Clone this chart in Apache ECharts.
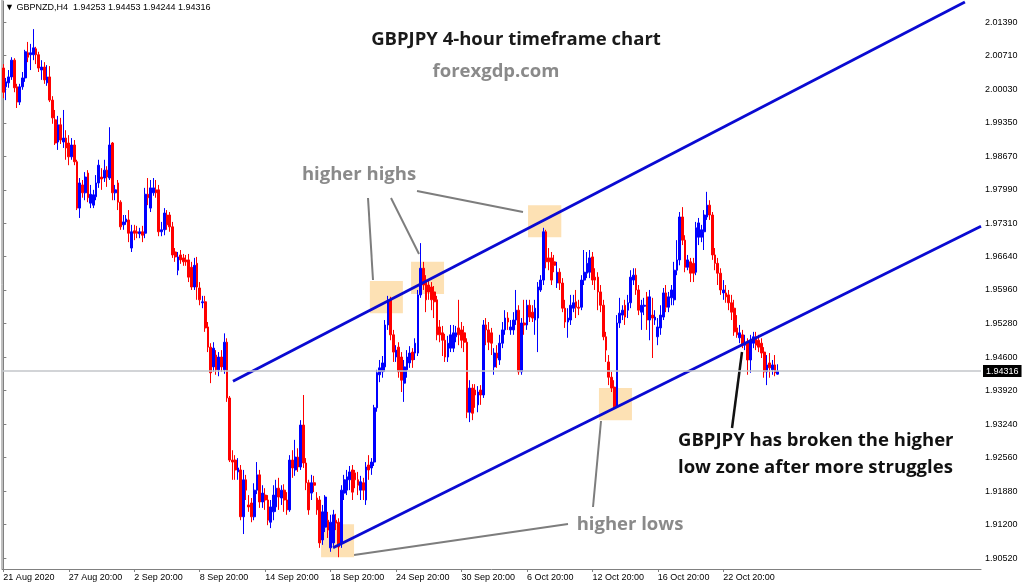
<!DOCTYPE html>
<html>
<head>
<meta charset="utf-8">
<script src="https://cdn.jsdelivr.net/npm/echarts@6/dist/echarts.min.js"></script>
<style>
html,body{margin:0;padding:0;background:#fff;}
#chart{width:1024px;height:586px;}
</style>
</head>
<body>
<div id="chart"></div>
<script>
// ---- data: GBPNZD H4 candles [open, close, low, high] ----
const ohlc = [
[2.0046,1.9997,1.9985,2.0054],[2.0008,2.0018,1.9981,2.0026],[2.0016,2.0028,2.0006,2.0042],[2.0028,2.0062,2.0022,2.0068],
[2.0062,2.0006,1.9997,2.0066],[2.0008,1.9977,1.9965,2.0014],[1.9977,2.0008,1.9971,2.0014],[2.0008,2.0026,2.0002,2.0038],
[2.0026,2.0079,2.0018,2.0083],[2.0077,2.0068,2.0058,2.0099],[2.0073,2.0077,2.0042,2.0095],[2.0073,2.0087,2.0062,2.0125],
[2.0085,2.0073,2.0054,2.0089],[2.0073,2.0046,2.0038,2.0079],[2.0042,2.0048,2.0022,2.0062],[2.0048,2.0022,2.0014,2.0058],
[2.0016,2.0028,2.0010,2.0052],[2.0028,1.9981,1.9977,2.0050],[1.9981,1.9945,1.9933,1.9989],[1.9941,1.9894,1.9890,1.9961],
[1.9896,1.9931,1.9880,1.9949],[1.9931,1.9900,1.9892,1.9945],[1.9896,1.9904,1.9884,1.9961],[1.9904,1.9884,1.9860,1.9920],
[1.9894,1.9866,1.9849,1.9910],[1.9866,1.9890,1.9860,1.9904],[1.9890,1.9856,1.9849,1.9900],[1.9856,1.9762,1.9758,1.9860],
[1.9762,1.9813,1.9742,1.9823],[1.9809,1.9793,1.9783,1.9819],[1.9793,1.9825,1.9778,1.9835],[1.9833,1.9783,1.9774,1.9839],
[1.9772,1.9790,1.9762,1.9809],[1.9768,1.9789,1.9762,1.9799],[1.9785,1.9813,1.9778,1.9829],[1.9813,1.9849,1.9803,1.9860],
[1.9825,1.9821,1.9799,1.9843],[1.9823,1.9839,1.9815,1.9860],[1.9839,1.9825,1.9805,1.9847],[1.9823,1.9890,1.9819,1.9926],
[1.9894,1.9793,1.9778,1.9896],[1.9793,1.9799,1.9778,1.9809],[1.9813,1.9774,1.9758,1.9819],[1.9774,1.9724,1.9718,1.9778],
[1.9728,1.9734,1.9718,1.9748],[1.9734,1.9740,1.9728,1.9748],[1.9738,1.9711,1.9693,1.9758],[1.9681,1.9714,1.9673,1.9728],
[1.9716,1.9711,1.9697,1.9728],[1.9714,1.9711,1.9701,1.9726],[1.9710,1.9714,1.9701,1.9722],[1.9714,1.9707,1.9693,1.9726],
[1.9711,1.9790,1.9701,1.9803],[1.9790,1.9783,1.9768,1.9823],[1.9762,1.9803,1.9754,1.9819],[1.9793,1.9803,1.9787,1.9823],
[1.9799,1.9793,1.9783,1.9819],[1.9799,1.9714,1.9705,1.9809],[1.9714,1.9718,1.9705,1.9734],[1.9718,1.9752,1.9707,1.9762],
[1.9748,1.9728,1.9718,1.9758],[1.9748,1.9724,1.9714,1.9754],[1.9724,1.9667,1.9661,1.9734],[1.9673,1.9663,1.9653,1.9681],
[1.9636,1.9663,1.9626,1.9673],[1.9667,1.9657,1.9649,1.9677],[1.9661,1.9653,1.9645,1.9669],[1.9657,1.9653,1.9645,1.9667],
[1.9657,1.9622,1.9612,1.9669],[1.9642,1.9602,1.9596,1.9653],[1.9602,1.9646,1.9596,1.9661],[1.9650,1.9602,1.9576,1.9663],
[1.9600,1.9576,1.9565,1.9612],[1.9570,1.9572,1.9559,1.9584],[1.9572,1.9519,1.9511,1.9584],[1.9521,1.9480,1.9470,1.9531],
[1.9480,1.9428,1.9407,1.9488],[1.9440,1.9478,1.9430,1.9490],[1.9464,1.9434,1.9424,1.9474],[1.9434,1.9460,1.9421,1.9470],
[1.9460,1.9440,1.9430,1.9474],[1.9434,1.9490,1.9426,1.9508],[1.9490,1.9377,1.9369,1.9498],[1.9377,1.9251,1.9247,1.9381],
[1.9251,1.9247,1.9211,1.9271],[1.9251,1.9231,1.9211,1.9261],[1.9227,1.9235,1.9211,1.9255],[1.9231,1.9136,1.9129,1.9241],
[1.9136,1.9211,1.9101,1.9231],[1.9211,1.9190,1.9170,1.9221],[1.9160,1.9156,1.9146,1.9180],[1.9164,1.9136,1.9125,1.9174],
[1.9136,1.9190,1.9129,1.9204],[1.9190,1.9221,1.9182,1.9247],[1.9221,1.9166,1.9154,1.9231],[1.9166,1.9184,1.9154,1.9200],
[1.9180,1.9170,1.9150,1.9194],[1.9170,1.9129,1.9119,1.9180],[1.9125,1.9156,1.9113,1.9170],[1.9146,1.9180,1.9129,1.9200],
[1.9156,1.9194,1.9146,1.9211],[1.9194,1.9176,1.9150,1.9215],[1.9174,1.9190,1.9160,1.9200],[1.9190,1.9170,1.9146,1.9202],
[1.9170,1.9150,1.9140,1.9186],[1.9150,1.9251,1.9146,1.9261],[1.9251,1.9235,1.9215,1.9271],[1.9231,1.9257,1.9219,1.9292],
[1.9257,1.9237,1.9227,1.9275],[1.9237,1.9322,1.9231,1.9332],[1.9322,1.9245,1.9235,1.9383],[1.9245,1.9205,1.9190,1.9255],
[1.9205,1.9150,1.9140,1.9211],[1.9184,1.9205,1.9170,1.9221],[1.9205,1.9200,1.9186,1.9219],[1.9174,1.9150,1.9140,1.9186],
[1.9170,1.9083,1.9073,1.9178],[1.9089,1.9146,1.9079,1.9160],[1.9115,1.9176,1.9105,1.9180],[1.9129,1.9109,1.9093,1.9146],
[1.9073,1.9125,1.9065,1.9140],[1.9083,1.9140,1.9077,1.9150],[1.9129,1.9123,1.9109,1.9142],[1.9125,1.9075,1.9054,1.9133],
[1.9083,1.9190,1.9073,1.9200],[1.9184,1.9211,1.9170,1.9221],[1.9190,1.9217,1.9180,1.9231],[1.9211,1.9227,1.9190,1.9239],
[1.9231,1.9186,1.9170,1.9241],[1.9225,1.9211,1.9194,1.9231],[1.9211,1.9200,1.9180,1.9227],[1.9190,1.9207,1.9170,1.9219],
[1.9205,1.9190,1.9170,1.9215],[1.9170,1.9237,1.9160,1.9247],[1.9241,1.9231,1.9211,1.9261],[1.9235,1.9247,1.9221,1.9255],
[1.9247,1.9357,1.9239,1.9363],[1.9357,1.9428,1.9349,1.9434],[1.9424,1.9438,1.9409,1.9454],[1.9430,1.9448,1.9418,1.9462],
[1.9440,1.9525,1.9430,1.9535],[1.9525,1.9576,1.9515,1.9584],[1.9576,1.9505,1.9494,1.9582],[1.9505,1.9470,1.9450,1.9515],
[1.9460,1.9474,1.9450,1.9484],[1.9480,1.9430,1.9418,1.9490],[1.9460,1.9413,1.9389,1.9470],[1.9407,1.9440,1.9369,1.9454],
[1.9434,1.9460,1.9418,1.9474],[1.9448,1.9468,1.9438,1.9482],[1.9470,1.9454,1.9438,1.9478],[1.9468,1.9488,1.9454,1.9498],
[1.9468,1.9586,1.9462,1.9596],[1.9586,1.9640,1.9580,1.9691],[1.9640,1.9606,1.9596,1.9653],[1.9616,1.9576,1.9551,1.9626],
[1.9606,1.9592,1.9576,1.9616],[1.9602,1.9576,1.9555,1.9612],[1.9592,1.9572,1.9539,1.9604],[1.9576,1.9505,1.9494,1.9584],
[1.9521,1.9505,1.9490,1.9535],[1.9509,1.9494,1.9462,1.9523],[1.9494,1.9460,1.9450,1.9507],[1.9460,1.9488,1.9450,1.9503],
[1.9478,1.9505,1.9470,1.9525],[1.9478,1.9509,1.9470,1.9525],[1.9501,1.9509,1.9490,1.9523],[1.9519,1.9505,1.9484,1.9576],
[1.9515,1.9494,1.9478,1.9531],[1.9509,1.9490,1.9470,1.9523],[1.9490,1.9348,1.9336,1.9498],[1.9348,1.9397,1.9328,1.9413],
[1.9397,1.9346,1.9332,1.9405],[1.9393,1.9383,1.9357,1.9405],[1.9363,1.9389,1.9348,1.9401],[1.9393,1.9383,1.9363,1.9403],
[1.9383,1.9525,1.9377,1.9535],[1.9525,1.9515,1.9484,1.9539],[1.9515,1.9490,1.9474,1.9531],[1.9509,1.9488,1.9464,1.9519],
[1.9440,1.9468,1.9424,1.9478],[1.9468,1.9458,1.9438,1.9484],[1.9454,1.9488,1.9444,1.9505],[1.9488,1.9515,1.9478,1.9531],
[1.9515,1.9539,1.9505,1.9555],[1.9539,1.9531,1.9515,1.9551],[1.9515,1.9521,1.9505,1.9535],[1.9515,1.9535,1.9505,1.9551],
[1.9535,1.9555,1.9525,1.9596],[1.9555,1.9430,1.9424,1.9565],[1.9430,1.9529,1.9424,1.9539],[1.9529,1.9525,1.9505,1.9576],
[1.9525,1.9565,1.9515,1.9576],[1.9565,1.9541,1.9531,1.9576],[1.9551,1.9539,1.9531,1.9565],[1.9535,1.9559,1.9505,1.9576],
[1.9539,1.9602,1.9470,1.9612],[1.9596,1.9616,1.9592,1.9626],[1.9616,1.9714,1.9606,1.9722],[1.9714,1.9653,1.9640,1.9718],
[1.9661,1.9653,1.9636,1.9681],[1.9661,1.9616,1.9606,1.9673],[1.9653,1.9646,1.9632,1.9667],[1.9610,1.9632,1.9600,1.9653],
[1.9632,1.9610,1.9596,1.9640],[1.9610,1.9559,1.9551,1.9620],[1.9559,1.9531,1.9519,1.9576],[1.9531,1.9539,1.9499,1.9559],
[1.9535,1.9565,1.9525,1.9586],[1.9559,1.9570,1.9551,1.9586],[1.9572,1.9561,1.9539,1.9596],[1.9561,1.9559,1.9545,1.9576],
[1.9561,1.9616,1.9555,1.9626],[1.9616,1.9632,1.9606,1.9677],[1.9630,1.9650,1.9620,1.9673],[1.9632,1.9661,1.9620,1.9677],
[1.9663,1.9616,1.9606,1.9673],[1.9622,1.9616,1.9596,1.9640],[1.9622,1.9592,1.9555,1.9632],[1.9592,1.9565,1.9551,1.9606],
[1.9565,1.9501,1.9494,1.9576],[1.9501,1.9474,1.9450,1.9511],[1.9450,1.9419,1.9403,1.9464],[1.9419,1.9397,1.9389,1.9430],
[1.9399,1.9359,1.9353,1.9413],[1.9359,1.9529,1.9357,1.9545],[1.9529,1.9549,1.9519,1.9580],[1.9545,1.9555,1.9535,1.9565],
[1.9565,1.9541,1.9525,1.9576],[1.9555,1.9570,1.9539,1.9586],[1.9570,1.9622,1.9559,1.9636],[1.9616,1.9626,1.9606,1.9640],
[1.9626,1.9596,1.9586,1.9640],[1.9596,1.9555,1.9545,1.9606],[1.9551,1.9565,1.9515,1.9576],[1.9563,1.9565,1.9545,1.9580],
[1.9582,1.9535,1.9515,1.9592],[1.9535,1.9582,1.9494,1.9596],[1.9545,1.9539,1.9458,1.9580],[1.9535,1.9541,1.9525,1.9555],
[1.9501,1.9521,1.9484,1.9539],[1.9519,1.9545,1.9505,1.9565],[1.9541,1.9590,1.9535,1.9600],[1.9590,1.9561,1.9551,1.9606],
[1.9561,1.9582,1.9551,1.9592],[1.9580,1.9596,1.9565,1.9606],[1.9576,1.9636,1.9565,1.9653],[1.9636,1.9657,1.9626,1.9697],
[1.9657,1.9744,1.9646,1.9754],[1.9744,1.9697,1.9687,1.9764],[1.9697,1.9642,1.9632,1.9707],[1.9642,1.9657,1.9636,1.9667],
[1.9653,1.9630,1.9612,1.9661],[1.9650,1.9630,1.9612,1.9661],[1.9632,1.9722,1.9626,1.9734],[1.9703,1.9732,1.9687,1.9742],
[1.9703,1.9718,1.9693,1.9728],[1.9714,1.9748,1.9677,1.9758],[1.9744,1.9768,1.9738,1.9795],[1.9768,1.9748,1.9738,1.9778],
[1.9748,1.9667,1.9657,1.9754],[1.9667,1.9650,1.9636,1.9681],[1.9650,1.9630,1.9606,1.9661],[1.9630,1.9596,1.9586,1.9640],
[1.9590,1.9596,1.9576,1.9616],[1.9590,1.9582,1.9570,1.9606],[1.9586,1.9570,1.9555,1.9596],[1.9570,1.9551,1.9535,1.9586],
[1.9559,1.9511,1.9503,1.9576],[1.9519,1.9505,1.9499,1.9545],[1.9499,1.9509,1.9488,1.9525],[1.9505,1.9484,1.9478,1.9515],
[1.9484,1.9490,1.9474,1.9505],[1.9490,1.9454,1.9424,1.9498],[1.9454,1.9494,1.9428,1.9505],[1.9488,1.9501,1.9478,1.9511],
[1.9501,1.9484,1.9474,1.9511],[1.9494,1.9480,1.9470,1.9505],[1.9488,1.9468,1.9458,1.9498],[1.9470,1.9430,1.9418,1.9480],
[1.9430,1.9444,1.9403,1.9464],[1.9448,1.9438,1.9418,1.9468],[1.9434,1.9444,1.9424,1.9454],[1.9444,1.9428,1.9421,1.9464],
[1.94253,1.94316,1.94244,1.94453]
];
const totalSlots = 359;                       // bars plus empty right-side shift
const xTickLabels = ['21 Aug 2020','27 Aug 20:00','2 Sep 20:00','8 Sep 20:00','14 Sep 20:00','18 Sep 20:00',
  '24 Sep 20:00','30 Sep 20:00','6 Oct 20:00','12 Oct 20:00','16 Oct 20:00','22 Oct 20:00'];
const xTickStep = 24;
const yTickValues = [1.90520,1.91200,1.91880,1.92560,1.93240,1.93920,1.94600,1.95280,1.95960,1.96640,
  1.97310,1.97990,1.98670,1.99350,2.00030,2.00710,2.01390];
const lastPrice = 1.94316;
const header = 'GBPNZD,H4  1.94253 1.94453 1.94244 1.94316';
// trend channel lines  [barIndex, price]
const upperChannel = [[84.2, 1.9411], [352.6, 2.0180]];
const lowerChannel = [[120.9, 1.9073], [358.5, 1.9725]];
// highlight zones [[barFrom, priceTop], [barTo, priceBottom]]
const zones = [
  [[134.4, 1.9614], [146.5, 1.9549]],
  [[149.5, 1.9653], [161.6, 1.9588]],
  [[192.4, 1.9768], [204.6, 1.9703]],
  [[218.4, 1.9397], [230.5, 1.9332]],
  [[116.5, 1.9121], [128.6, 1.9054]]
];

const categories = Array.from({length: totalSlots}, (_, i) => String(i));
const tickShown = (idx) => idx % xTickStep === 0 && idx / xTickStep < xTickLabels.length;

const chart = echarts.init(document.getElementById('chart'), null, {renderer: 'canvas'});
const F = '"Open Sans", "DejaVu Sans", sans-serif';
const gray = '#8a8a8a';
const smallFont = '"Liberation Sans", Arial, sans-serif';

const option = {
  animation: false,
  grid: {left: 2, right: 43, top: 1, bottom: 17},
  xAxis: [{
    type: 'category', data: categories, boundaryGap: true,
    axisLine: {show: true, lineStyle: {color: '#808080', width: 1}},
    axisTick: {show: true, alignWithLabel: true, interval: tickShown, length: 3, lineStyle: {color: '#808080'}},
    axisLabel: {interval: tickShown, align: 'left', margin: 4, fontSize: 9, color: '#000', fontFamily: smallFont,
      formatter: (v, idx) => xTickLabels[Math.round(idx / xTickStep)] || ''},
    splitLine: {show: false}
  }, {
    type: 'value', min: -0.5, max: totalSlots - 0.5, show: false
  }],
  yAxis: {
    type: 'value', position: 'right', min: 1.90301, max: 2.01820, scale: true,
    axisLine: {show: true, lineStyle: {color: '#808080', width: 1}},
    axisTick: {show: true, length: 3, customValues: yTickValues, lineStyle: {color: '#808080'}},
    axisLabel: {customValues: yTickValues, margin: 4, fontSize: 9, color: '#000', fontFamily: smallFont,
      formatter: v => v.toFixed(5)},
    splitLine: {show: false}
  },
  series: [{
    type: 'line', xAxisIndex: 1, data: [], z: 1, silent: true,
    markArea: {
      silent: true,
      itemStyle: {color: '#fde1b4'},
      data: zones.map(z => [{coord: z[0]}, {coord: z[1]}])
    },
    markLine: {
      silent: true, symbol: ['none', 'none'], precision: 5,
      lineStyle: {color: '#c3c6ca', width: 1.5, type: 'solid'},
      label: {show: true, position: 'end', distance: 2, formatter: lastPrice.toFixed(5),
        backgroundColor: '#000', color: '#fff', fontSize: 9, padding: [2, 3, 1, 3], fontFamily: smallFont},
      data: [{yAxis: lastPrice}]
    }
  }, {
    type: 'candlestick', xAxisIndex: 0, data: ohlc, z: 2,
    barWidth: 2.2,
    itemStyle: {color: '#0000ff', color0: '#ff0000', borderColor: '#0000ff', borderColor0: '#ff0000', borderWidth: 1}
  }, {
    type: 'line', xAxisIndex: 1, data: upperChannel, z: 3, symbol: 'none', silent: true,
    lineStyle: {color: '#0a0ad2', width: 2.8}
  }, {
    type: 'line', xAxisIndex: 1, data: lowerChannel, z: 3, symbol: 'none', silent: true,
    lineStyle: {color: '#0a0ad2', width: 2.8}
  }],
  graphic: [
    {type: 'line', shape: {x1: 2, y1: 0, x2: 2, y2: 569}, style: {stroke: '#808080', lineWidth: 1}},
    {type: 'text', left: 5, top: 3, style: {text: '▼ ' + header, font: '9px "Liberation Sans", "DejaVu Sans", sans-serif', fill: '#000'}},
    {type: 'text', x: 516, y: 40, style: {text: 'GBPJPY 4-hour timeframe chart', font: 'bold 18.5px ' + F, fill: '#1a1a1a', textAlign: 'center', textVerticalAlign: 'middle'}},
    {type: 'text', x: 496, y: 72, style: {text: 'forexgdp.com', font: 'bold 18.5px ' + F, fill: gray, textAlign: 'center', textVerticalAlign: 'middle'}},
    {type: 'text', x: 359, y: 175, style: {text: 'higher highs', font: 'bold 18.5px ' + F, fill: gray, textAlign: 'center', textVerticalAlign: 'middle'}},
    {type: 'text', x: 630, y: 525, style: {text: 'higher lows', font: 'bold 18.5px ' + F, fill: gray, textAlign: 'center', textVerticalAlign: 'middle'}},
    {type: 'text', x: 678, y: 441, style: {text: 'GBPJPY has broken the higher', font: 'bold 18.5px ' + F, fill: '#111', textAlign: 'left', textVerticalAlign: 'middle'}},
    {type: 'text', x: 678, y: 468, style: {text: 'low zone after more struggles', font: 'bold 18.5px ' + F, fill: '#111', textAlign: 'left', textVerticalAlign: 'middle'}},
    {type: 'line', shape: {x1: 368, y1: 198, x2: 373, y2: 280}, style: {stroke: '#7d7d7d', lineWidth: 2}},
    {type: 'line', shape: {x1: 391, y1: 198, x2: 419, y2: 254}, style: {stroke: '#7d7d7d', lineWidth: 2}},
    {type: 'line', shape: {x1: 417, y1: 191, x2: 523, y2: 212}, style: {stroke: '#7d7d7d', lineWidth: 2}},
    {type: 'line', shape: {x1: 354, y1: 555, x2: 568, y2: 524}, style: {stroke: '#7d7d7d', lineWidth: 2}},
    {type: 'line', shape: {x1: 593, y1: 507, x2: 601, y2: 421}, style: {stroke: '#7d7d7d', lineWidth: 2}},
    {type: 'line', shape: {x1: 732, y1: 428, x2: 742, y2: 352}, style: {stroke: '#111', lineWidth: 2.5}}
  ]
};
chart.setOption(option);
</script>
</body>
</html>
